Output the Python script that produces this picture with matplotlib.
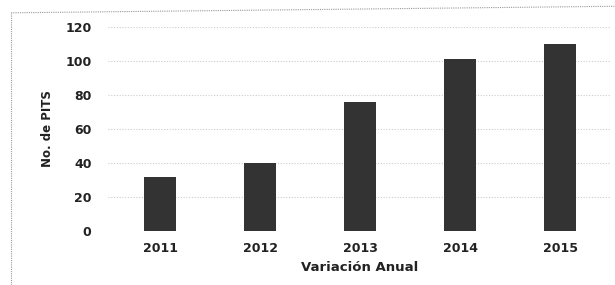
import matplotlib.pyplot as plt
from matplotlib.lines import Line2D

# Data
years = ['2011', '2012', '2013', '2014', '2015']
pits = [32, 40, 76, 101, 110]
y_ticks = [0, 20, 40, 60, 80, 100, 120]

plt.rcParams['font.family'] = ['DejaVu Sans']

fig = plt.figure(figsize=(6.15, 2.85), dpi=100)
ax = fig.add_axes([0.176, 0.19, 0.816, 0.715])

ax.bar(range(len(years)), pits, width=0.32, color='#333333', zorder=3)

ax.set_xlim(-0.52, 4.5)
ax.set_ylim(0, 120)
ax.set_yticks(y_ticks)
ax.set_xticks(range(len(years)))
ax.set_xticklabels(years)

# light dotted gridlines
ax.grid(axis='y', color='#cccccc', linestyle=(0, (1, 1.5)), linewidth=0.8, zorder=0)

for s in ax.spines.values():
    s.set_visible(False)
ax.tick_params(length=0, labelsize=9, colors='#222222')
ax.tick_params(axis='y', pad=12)
ax.tick_params(axis='x', pad=8)
for lbl in ax.get_xticklabels() + ax.get_yticklabels():
    lbl.set_fontweight('bold')

ax.set_xlabel('Variación Anual', fontsize=9.5, fontweight='bold', color='#222222', labelpad=4)
ax.set_ylabel('No. de PITS', fontsize=8.5, fontweight='bold', color='#222222', labelpad=8)

# dotted frame around the chart (left and top)
fig.add_artist(Line2D([0.018, 0.018], [0.0, 0.955], transform=fig.transFigure,
                      color='#999999', linestyle=(0, (1, 1)), linewidth=0.8))
fig.add_artist(Line2D([0.018, 1.0], [0.955, 0.978], transform=fig.transFigure,
                      color='#999999', linestyle=(0, (1, 1)), linewidth=0.8))

fig.savefig('out.png', dpi=100)
